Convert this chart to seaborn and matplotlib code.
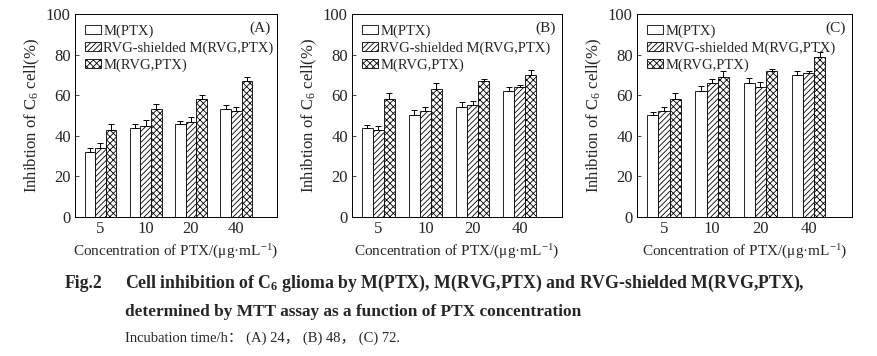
import numpy as np
import pandas as pd
import matplotlib
matplotlib.use("Agg")
import matplotlib.pyplot as plt
from matplotlib.container import BarContainer
import seaborn as sns

sns.set_theme(style="white")
plt.rcParams['font.family'] = ['Liberation Serif', 'DejaVu Serif']
plt.rcParams['mathtext.fontset'] = 'custom'
plt.rcParams['mathtext.rm'] = 'Liberation Serif'
plt.rcParams['mathtext.it'] = 'Liberation Serif:italic'
plt.rcParams['mathtext.bf'] = 'Liberation Serif:bold'
plt.rcParams['hatch.linewidth'] = 0.6

concentrations = ["5", "10", "20", "40"]
series = ["M(PTX)", "RVG-shielded M(RVG,PTX)", "M(RVG,PTX)"]
panels = ["(A)", "(B)", "(C)"]

# Panel A (24 h)
a_mptx = [32, 44, 46, 53]
a_shield = [34, 45, 47, 52]
a_rvg = [43, 53, 58, 67]
a_mptx_err = [2, 2, 1.5, 2]
a_shield_err = [2.5, 3, 2.5, 2]
a_rvg_err = [3, 2.5, 2, 2]
# Panel B (48 h)
b_mptx = [44, 50, 54, 62]
b_shield = [43, 52, 55, 64]
b_rvg = [58, 63, 67, 70]
b_mptx_err = [1.5, 2.5, 2.5, 2]
b_shield_err = [2, 2, 2, 1]
b_rvg_err = [3, 3, 1, 2.5]
# Panel C (72 h)
c_mptx = [50, 62, 66, 70]
c_shield = [52, 66, 64, 71]
c_rvg = [58, 69, 72, 79]
c_mptx_err = [1.5, 2.5, 2.5, 2]
c_shield_err = [2, 2, 2.5, 1]
c_rvg_err = [3, 3, 1, 2.5]

panel_data = [
    ([a_mptx, a_shield, a_rvg], [a_mptx_err, a_shield_err, a_rvg_err]),
    ([b_mptx, b_shield, b_rvg], [b_mptx_err, b_shield_err, b_rvg_err]),
    ([c_mptx, c_shield, c_rvg], [c_mptx_err, c_shield_err, c_rvg_err]),
]

hatches = ["", "//////", "xxxxx"]

W, H = 878, 356
fig = plt.figure(figsize=(W / 100, H / 100), dpi=100)
boxes = [(75, 277), (352, 562), (637, 852)]
top, bottom = 14, 217

for i, ((vals, errs), (l, r)) in enumerate(zip(panel_data, boxes)):
    ax = fig.add_axes([l / W, (H - bottom) / H, (r - l) / W, (bottom - top) / H])
    rows = []
    for s, v in zip(series, vals):
        for c, y in zip(concentrations, v):
            rows.append({"conc": c, "series": s, "value": y})
    df = pd.DataFrame(rows)
    sns.barplot(data=df, x="conc", y="value", hue="series", order=concentrations,
                hue_order=series, palette=["white"] * 3, edgecolor="black",
                linewidth=0.6, width=0.7, errorbar=None, ax=ax, legend=True)
    bar_conts = [c for c in ax.containers if isinstance(c, BarContainer)]
    for j, cont in enumerate(bar_conts):
        xs, ys = [], []
        for p in cont.patches:
            p.set_hatch(hatches[j])
            p.set_edgecolor("black")
            xs.append(p.get_x() + p.get_width() / 2)
            ys.append(p.get_height())
        e = errs[j]
        ax.errorbar(xs, ys, yerr=[np.zeros(len(e)), e], fmt="none", ecolor="black",
                    elinewidth=0.7, capsize=2, capthick=0.7)
    ax.set_ylim(0, 100)
    ax.set_xlim(-0.56, 3.9)
    ax.set_yticks([0, 20, 40, 60, 80, 100])
    ax.tick_params(axis="y", direction="in", length=3, width=0.6, labelsize=12, pad=3, left=True)
    ax.tick_params(axis="x", length=0, labelsize=12, pad=3)
    for sp in ax.spines.values():
        sp.set_linewidth(0.7)
        sp.set_color("black")
    ax.set_xlabel("Concentration of PTX/(μg·mL$^{-1}$)", fontsize=11, labelpad=4)
    ax.set_ylabel(r"Inhibtion of C$_6$ cell(%)", fontsize=12, labelpad=3)
    leg = ax.legend(loc="upper left", frameon=False, fontsize=10.5, handlelength=1.1,
                    handleheight=0.6, handletextpad=0.15, labelspacing=0.25,
                    borderaxespad=0.5, borderpad=0.2)
    for h, ht in zip(leg.legend_handles, hatches):
        h.set_hatch(ht)
        h.set_edgecolor("black")
        h.set_linewidth(0.6)
    ax.text(0.97, 0.965, panels[i], transform=ax.transAxes, ha="right", va="top", fontsize=11)

fig.text(65 / W, 1 - 283 / H, "Fig.2", fontsize=12.8, fontweight="bold", va="center")
fig.text(125 / W, 1 - 283 / H,
         r"Cell inhibition of C$_\mathbf{6}$ glioma by M(PTX), M(RVG,PTX) and RVG-shielded M(RVG,PTX),",
         fontsize=12.8, fontweight="bold", va="center")
fig.text(125 / W, 1 - 312 / H, "determined by MTT assay as a function of PTX concentration",
         fontsize=12.4, fontweight="bold", va="center")
fig.text(125 / W, 1 - 338 / H, "Incubation time/h： (A) 24， (B) 48， (C) 72.",
         fontsize=10.5, va="center", family=['Liberation Serif', 'Noto Sans CJK SC'])

fig.savefig("out.png", dpi=100)
